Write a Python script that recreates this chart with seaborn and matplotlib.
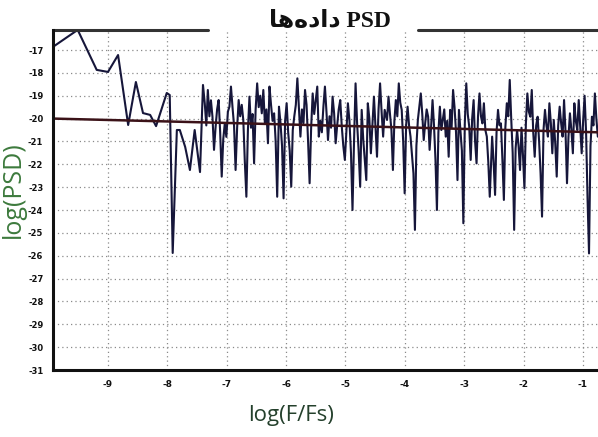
import numpy as np
import pandas as pd
import matplotlib
matplotlib.use("Agg")
import matplotlib.pyplot as plt
import seaborn as sns

# ---------------- data ----------------
# sparse low-frequency part of the PSD (log10 F/Fs , log10 PSD)
low_x = [-9.93, -9.51, -9.19, -9.00, -8.83, -8.66, -8.53, -8.41, -8.29, -8.19,
         -8.01, -7.96, -7.91, -7.84, -7.79, -7.70, -7.62, -7.54, -7.45, -7.40]
low_y = [-16.87, -16.12, -17.87, -17.96, -17.22, -20.28, -18.40, -19.76, -19.84, -20.33,
         -18.88, -18.97, -25.88, -20.50, -20.50, -21.24, -22.25, -20.50, -22.34, -18.53]

# dense high-frequency part, read segment by segment
seg_a = [-19.33, -20.3, -18.75, -19.9, -19.2, -19.92, -21.37, -20.4, -19.6, -19.19,
         -20.6, -22.54, -20.9, -20.21, -20.8, -19.7, -19.48, -18.60, -19.5, -20.3,
         -22.25, -20.4, -19.19, -19.9, -19.4, -20.06, -21.9, -23.42, -20.5, -19.04,
         -20.4, -19.8, -21.96, -19.6, -18.46, -19.5, -19.0, -19.77, -18.75, -20.2,
         -19.6, -21.08, -18.60, -19.4, -20.1, -19.77, -21.0, -23.42]
seg_b = [-19.48, -20.2, -21.2, -23.49, -20.1, -19.33, -20.6, -21.4, -22.98, -20.50,
         -19.9, -19.4, -18.24, -19.5, -20.79, -19.6, -20.2, -18.75, -19.4, -21.0,
         -22.83, -20.4, -18.90, -19.8, -19.2, -18.60, -20.79, -20.1, -20.6, -19.48,
         -18.60, -19.7, -20.94, -19.9, -20.4, -19.04, -19.77, -21.08, -20.3, -19.6,
         -19.19, -20.35, -21.2, -21.81, -20.6, -19.33, -20.1, -21.5, -24.00, -21.0,
         -18.46, -20.2, -21.4, -22.98, -19.62, -20.9, -21.8, -22.69, -19.33, -20.0,
         -21.52, -20.3, -19.04, -20.4, -21.67, -19.6, -18.46, -19.7, -20.79, -19.62]
seg_c = [-20.06, -19.04, -19.8, -20.5, -22.25, -20.1, -19.19, -19.9, -18.46, -19.3,
         -19.62, -21.0, -23.27, -20.3, -19.48, -20.3, -20.79, -21.6, -22.4, -24.87,
         -21.2, -20.06, -19.5, -18.90, -19.8, -20.94, -20.2, -19.6, -19.92, -21.37,
         -20.4, -19.19, -20.3, -21.8, -24.00, -20.6, -19.48, -20.5, -20.06, -19.6,
         -20.79, -20.1, -21.67, -19.62, -20.4, -18.75, -19.5, -20.6, -22.69, -19.62,
         -20.5, -21.4, -24.58, -20.2, -18.46, -19.8, -20.35, -21.81, -20.0, -19.19,
         -21.0, -21.96, -19.9, -18.90, -19.9, -20.21, -19.33, -20.5, -20.79, -21.9,
         -23.42]
seg_d = [-20.79, -21.9, -23.34, -20.6, -19.62, -20.3, -20.21, -21.8, -23.56, -20.4,
         -19.33, -19.9, -18.31, -20.0, -21.5, -24.87, -21.3, -20.50, -21.2, -22.25,
         -20.4, -21.6, -23.05, -20.2, -18.90, -19.7, -19.92, -18.75, -20.6, -21.67,
         -20.3, -19.92, -21.0, -22.4, -24.29, -20.5, -19.62, -20.3, -20.79, -19.33,
         -20.2, -21.52, -20.06, -21.1, -22.54, -20.3, -19.48, -20.2, -20.79, -19.19,
         -20.6, -22.83, -20.8, -19.77, -20.5, -21.52, -19.33, -20.1, -20.50, -19.19,
         -20.4, -21.52, -20.1, -19.0, -20.6, -23.5, -25.90, -21.2, -19.92, -20.3,
         -18.90, -20.0, -20.79]
seg_ranges = [(-7.37, -6.15), (-6.12, -4.34), (-4.30, -2.57), (-2.53, -0.75)]

# fitted trend line
fit_x = [-9.93, -0.75]
fit_y = [-20.0, -20.6]

x_ticks = [-9, -8, -7, -6, -5, -4, -3, -2, -1]
y_ticks = [-31, -30, -29, -28, -27, -26, -25, -24, -23, -22, -21, -20, -19, -18, -17]

title_text = "\uFE8E\uFEEB\uFEE9\uFEA9\uFE8D\uFEA9 PSD"   # "PSD داده‌ها" (visual order)
xlabel_text = "log(F/Fs)"
ylabel_text = "log(PSD)"

# ---------------- build frame ----------------
xs = list(low_x)
ys = list(low_y)
for seg, (a, b) in zip([seg_a, seg_b, seg_c, seg_d], seg_ranges):
    xs += list(np.linspace(a, b, len(seg)))
    ys += seg
df = pd.DataFrame({"x": xs, "y": ys})
fit_df = pd.DataFrame({"x": fit_x, "y": fit_y})

# ---------------- figure ----------------
sns.set_theme(style="white")
plt.rcParams["font.family"] = ["DejaVu Sans"]

fig = plt.figure(figsize=(5.98, 4.37), dpi=100)
ax = fig.add_axes([53 / 598, 1 - 370 / 437, 545 / 598, 340 / 437])

ax.grid(True, linestyle=(0, (1, 2.5)), color="#8a8a8a", linewidth=0.9)
ax.set_axisbelow(True)

sns.lineplot(data=df, x="x", y="y", sort=False, estimator=None,
             color="#16163a", linewidth=1.5, ax=ax)
sns.lineplot(data=fit_df, x="x", y="y", sort=False, estimator=None,
             color="#3b1218", linewidth=1.8, ax=ax)

ax.set_xlim(-9.926, -0.747)
ax.set_ylim(-31, -16.125)
ax.set_xticks(x_ticks)
ax.set_xticklabels([str(t) for t in x_ticks], fontsize=6.5, fontweight="bold")
ax.set_yticks(y_ticks)
ax.set_yticklabels([str(t) for t in y_ticks], fontsize=6, fontweight="bold")
ax.tick_params(axis="both", length=0, pad=7, colors="#111111")

for s in ["left", "bottom"]:
    ax.spines[s].set_linewidth(2.2)
    ax.spines[s].set_color("#111111")
ax.spines["right"].set_visible(False)
ax.spines["top"].set_visible(False)
# broken top frame around the title
ytop = ax.get_ylim()[1]
ax.axhline(ytop, xmin=0, xmax=(208 - 53) / 545, color="#333333", lw=2.2, clip_on=False)
ax.axhline(ytop, xmin=(418 - 53) / 545, xmax=1, color="#333333", lw=2.2, clip_on=False)

fig.text(330 / 598, 1 - 22 / 437, title_text, ha="center", va="center",
         fontsize=17, fontweight="bold", family=["Liberation Serif", "DejaVu Sans"],
         color="#111111")

ax.set_xlabel(xlabel_text, fontsize=16, family=["Open Sans", "DejaVu Sans"], color="#24402c")
ax.xaxis.set_label_coords((291 - 53) / 545, (370 - 415) / 340)
ax.xaxis.label.set_va("center")
ax.set_ylabel(ylabel_text, fontsize=18, family=["Open Sans", "DejaVu Sans"], color="#3d7a3d")
ax.yaxis.set_label_coords((13 - 53) / 545, (370 - 190) / 340)
ax.yaxis.label.set_va("center")

fig.savefig("out.png", dpi=100, facecolor="white")
